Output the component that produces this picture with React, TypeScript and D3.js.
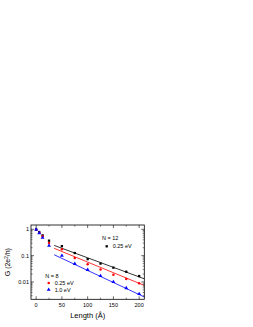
import * as d3 from 'd3';
import { FunctionComponent } from "react";

// G(L) for the three ribbons
const lengths = [0, 6, 12.5, 25, 50, 75, 100, 125, 150, 175, 200];
const gN12_025 = [1.0, 0.79, 0.59, 0.37, 0.23, 0.126, 0.074, 0.05, 0.035, 0.0245, 0.0168];
const gN8_025 = [0.97, 0.74, 0.54, 0.30, 0.174, 0.081, 0.047, 0.0295, 0.0188, 0.0129, 0.0089];
const gN8_10 = [0.98, 0.72, 0.48, 0.24, 0.10, 0.049, 0.029, 0.017, 0.010, 0.0059, 0.0035];

// straight fits (endpoints)
const fitX = [35, 210];
const fitN12_025 = [0.245, 0.0132];
const fitN8_025 = [0.19, 0.0074];
const fitN8_10 = [0.108, 0.0027];

const xTicks = [0, 50, 100, 150, 200];
const xMinor = [25, 75, 125, 175];
const yTicks = [1, 0.1, 0.01];
const yTickLabels = ["1", "0.1", "0.01"];

const App: FunctionComponent = () => {
    const width = 253;
    const height = 327;
    const left = 31, right = 144.3, top = 225, bottom = 299.3;

    const x = d3.scaleLinear([-10, 210], [left, right]);
    const y = d3.scaleLog([0.0022, 1.46], [bottom, top]);

    const line = d3.line<[number, number]>().x(d => x(d[0])).y(d => y(d[1]));

    const yMinor: number[] = [];
    [0.001, 0.01, 0.1, 1].forEach(d => {
        for (let k = 2; k <= 9; k++) {
            const v = d * k;
            if (v > 0.0022 && v < 1.46) yMinor.push(v);
        }
    });

    const series = [
        { data: gN12_025, fit: fitN12_025, color: "#000000", shape: "square" },
        { data: gN8_025, fit: fitN8_025, color: "#ff0000", shape: "circle" },
        { data: gN8_10, fit: fitN8_10, color: "#0000ff", shape: "triangle" },
    ];

    const marker = (shape: string, cx: number, cy: number, color: string, key: string) => {
        if (shape === "square") return <rect key={key} x={cx - 1.15} y={cy - 1.15} width={2.3} height={2.3} fill={color} />;
        if (shape === "circle") return <circle key={key} cx={cx} cy={cy} r={1.25} fill={color} />;
        const p = d3.symbol(d3.symbolTriangle, 6.5)();
        return <path key={key} d={p ?? ""} transform={`translate(${cx},${cy})`} fill={color} />;
    };

    const font = "Arial, 'Liberation Sans', sans-serif";

    return <svg width={width} height={height} style={{ position: "absolute", left: 0, top: 0 }} fontFamily={font}>
        <rect x={0} y={0} width={width} height={height} fill="white" />

        {series.map((s, i) => <g key={i}>
            <path d={line(fitX.map((v, j) => [v, s.fit[j]] as [number, number])) ?? ""} stroke={s.color} strokeWidth={0.8} fill="none" />
            {lengths.map((l, j) => marker(s.shape, x(l), y(s.data[j]), s.color, `m${i}-${j}`))}
        </g>)}

        {/* frame */}
        <rect x={left} y={top} width={right - left} height={bottom - top} fill="none" stroke="#000" strokeWidth={0.8} />

        {/* x ticks */}
        {xTicks.map(t => <g key={`xt${t}`}>
            <line x1={x(t)} x2={x(t)} y1={bottom} y2={bottom - 3} stroke="#000" strokeWidth={0.6} />
            <line x1={x(t)} x2={x(t)} y1={top} y2={top + 3} stroke="#000" strokeWidth={0.6} />
            <text x={x(t)} y={bottom + 8} fontSize={5.5} textAnchor="middle">{t}</text>
        </g>)}
        {xMinor.map(t => <g key={`xm${t}`}>
            <line x1={x(t)} x2={x(t)} y1={bottom} y2={bottom - 1.6} stroke="#000" strokeWidth={0.5} />
            <line x1={x(t)} x2={x(t)} y1={top} y2={top + 1.6} stroke="#000" strokeWidth={0.5} />
        </g>)}

        {/* y ticks */}
        {yTicks.map((t, i) => <g key={`yt${t}`}>
            <line x1={left} x2={left + 3} y1={y(t)} y2={y(t)} stroke="#000" strokeWidth={0.6} />
            <line x1={right} x2={right - 3} y1={y(t)} y2={y(t)} stroke="#000" strokeWidth={0.6} />
            <text x={left - 2} y={y(t) + 2} fontSize={5.5} textAnchor="end">{yTickLabels[i]}</text>
        </g>)}
        {yMinor.map(t => <g key={`ym${t}`}>
            <line x1={left} x2={left + 1.6} y1={y(t)} y2={y(t)} stroke="#000" strokeWidth={0.5} />
            <line x1={right} x2={right - 1.6} y1={y(t)} y2={y(t)} stroke="#000" strokeWidth={0.5} />
        </g>)}

        {/* axis titles */}
        <text x={(left + right) / 2} y={318} fontSize={7.5} textAnchor="middle">Length (Å)</text>
        <text transform={`translate(10,${(top + bottom) / 2}) rotate(-90)`} fontSize={7} textAnchor="middle">
            G (2e<tspan fontSize={4.5} dy={-2.5}>2</tspan><tspan dy={2.5}>/h)</tspan>
        </text>

        {/* legends */}
        <text x={102} y={240} fontSize={5.5}>N = 12</text>
        {marker("square", 106.7, 246.3, "#000000", "lg1")}
        <text x={112.7} y={248.3} fontSize={5.5}>0.25 eV</text>

        <text x={45.3} y={277.5} fontSize={5.5}>N = 8</text>
        {marker("circle", 48.7, 283, "#ff0000", "lg2")}
        <text x={54.7} y={285} fontSize={5.5}>0.25 eV</text>
        {marker("triangle", 48.7, 289.7, "#0000ff", "lg3")}
        <text x={54.7} y={291.7} fontSize={5.5}>1.0 eV</text>
    </svg>
}

export default App;
